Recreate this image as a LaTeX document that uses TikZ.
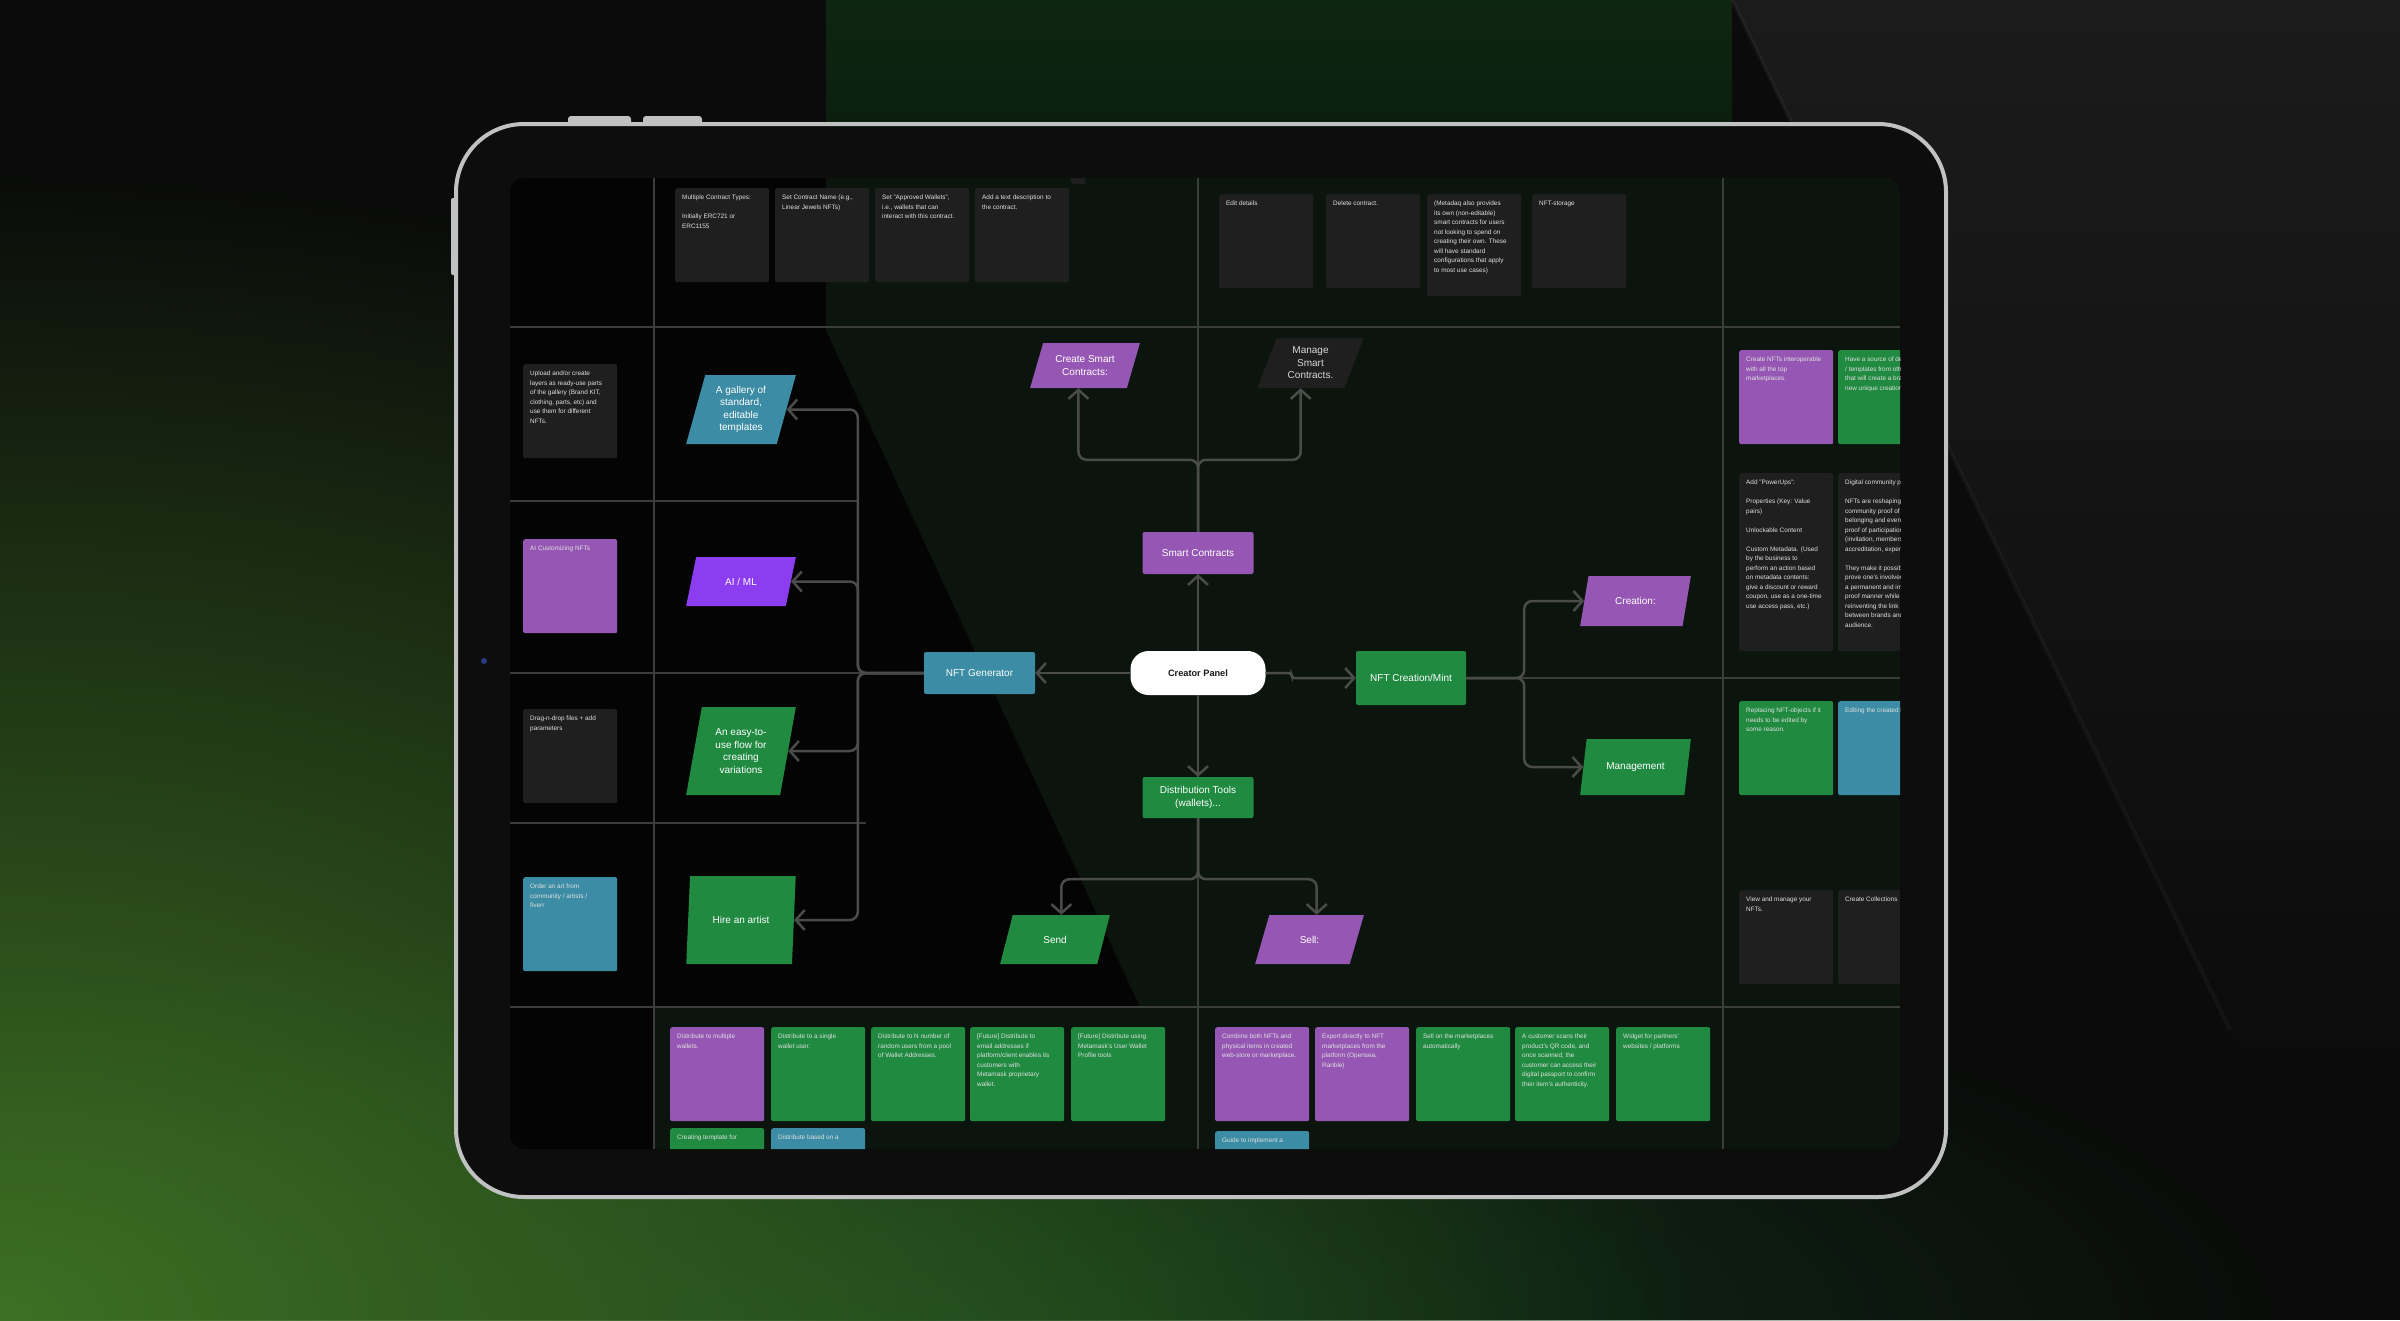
\documentclass[tikz,border=0pt]{standalone}
\usepackage{fontspec}
\setmainfont{Liberation Sans}
\usetikzlibrary{arrows.meta,shapes.geometric,fadings}
\definecolor{bgbase}{HTML}{0A0B0A}
\definecolor{bandgreen}{HTML}{0D2611}
\definecolor{bandlow}{HTML}{0B140C}
\definecolor{bggrey}{HTML}{1A1B1A}
\definecolor{glowgreen}{HTML}{3D7024}
\definecolor{deepgreen}{HTML}{12381B}
\definecolor{bezel}{HTML}{0D0D0D}
\definecolor{silver}{HTML}{BFC2C0}
\definecolor{camblue}{HTML}{2A3A80}
\definecolor{screenbg}{HTML}{040404}
\definecolor{screengreen}{HTML}{0B150E}
\definecolor{gridc}{HTML}{3B3D3B}
\definecolor{connc}{HTML}{4A4C4A}
\definecolor{purpleN}{HTML}{9657B4}
\definecolor{greenN}{HTML}{1F8A40}
\definecolor{tealN}{HTML}{3B8CA4}
\definecolor{violetN}{HTML}{8C3DF0}
\definecolor{darkN}{HTML}{1E1F1E}
\definecolor{notetext}{HTML}{E0E0E0}
\tikzfading[name=glowfade, inner color=transparent!0, outer color=transparent!100]
\newcommand{\nodefont}{\fontsize{10}{12.4}\selectfont}
\newcommand{\notefont}{\fontsize{6.4}{9.5}\selectfont}
\newcommand{\notebox}[2][80pt]{\parbox[t][#1][t]{80pt}{\raggedright #2}}
\tikzset{boxnode/.style={rectangle, rounded corners=2pt, inner sep=2pt, text=white, font=\nodefont, align=center}}
\tikzset{para/.style 2 args={trapezium, trapezium left angle=#1, trapezium right angle=#2, trapezium stretches=true, inner sep=1pt, text=white, font=\nodefont, align=center}}
\tikzset{note/.style={anchor=north west, rounded corners=2pt, inner xsep=7pt, inner ysep=7pt, font=\notefont, text=notetext}}
\tikzset{conn/.style={draw=connc, line width=2.5pt, rounded corners=8pt, -{Straight Barb[length=9pt, width=20pt]}}}
\tikzset{gridline/.style={draw=gridc, line width=2.5pt}}

\begin{document}
\begin{tikzpicture}[x=1pt, y=-1pt]
\useasboundingbox (0,0) rectangle (2400,1320);
% backdrop
\fill[bgbase] (0,0) rectangle (2400,1320);
\shade[top color=bandgreen, bottom color=bandlow] (826,0) rectangle (1732,320);
\shade[top color=bggrey, bottom color=bgbase] (1732,0) -- (2400,0) -- (2400,1080) -- (2255,1080) -- cycle;
\draw[white, opacity=0.04, line width=4pt] (1732,0) -- (2230,1030);
\fill[deepgreen, path fading=glowfade] (900,1330) ellipse (1400 and 420);
\fill[glowgreen, path fading=glowfade] (0,1320) ellipse (1700 and 1150);

% tablet
\fill[silver, rounded corners=3pt] (568,116) rectangle (631,130);
\fill[silver, rounded corners=3pt] (643,116) rectangle (702,130);
\fill[silver, rounded corners=2pt] (451,198) rectangle (462,275);
\draw[silver, fill=bezel, line width=4pt, rounded corners=68pt] (456,124) rectangle (1946,1197);
\fill[screenbg, rounded corners=14pt] (510,178) rectangle (1900,1149);
\fill[camblue] (484,661) circle (3);

\begin{scope}
\clip[rounded corners=14pt] (510,178) rectangle (1900,1149);
\fill[screengreen] (826,178) -- (1900,178) -- (1900,1149) -- (654,1149) -- (654,1007) -- (1140,1007) -- (826,330) -- cycle;

% board grid
\draw[gridline] (654,178) -- (654,1149);
\draw[gridline] (1198,178) -- (1198,1149);
\draw[gridline] (1723,178) -- (1723,1149);
\draw[gridline] (510,327) -- (1900,327);
\draw[gridline] (510,1007) -- (1900,1007);
\draw[gridline] (510,501) -- (858,501);
\draw[gridline] (510,673) -- (924,673);
\draw[gridline] (510,823) -- (866,823);
\draw[gridline] (1466,678) -- (1900,678);

% sticky notes, top row
\node[note, fill=darkN] (t0) at (1071,90) {\notebox{}};
\node[note, fill=darkN] (t1) at (675,188) {\notebox{Multiple Contract Types:\\[9.5pt]Initially ERC721 or\\ERC1155}};
\node[note, fill=darkN] (t2) at (775,188) {\notebox{Set Contract Name (e.g.,\\Linear Jewels NFTs)}};
\node[note, fill=darkN] (t3) at (875,188) {\notebox{Set "Approved Wallets",\\i.e., wallets that can\\interact with this contract.}};
\node[note, fill=darkN] (t4) at (975,188) {\notebox{Add a text description to\\the contract.}};
\node[note, fill=darkN] (t5) at (1219,194) {\notebox{Edit details}};
\node[note, fill=darkN] (t6) at (1326,194) {\notebox{Delete contract.}};
\node[note, fill=darkN] (t7) at (1427,194) {\notebox[88pt]{(Metadaq also provides\\its own (non-editable)\\smart contracts for users\\not looking to spend on\\creating their own. These\\will have standard\\configurations that apply\\to most use cases)}};
\node[note, fill=darkN] (t8) at (1532,194) {\notebox{NFT-storage}};

% sticky notes, left column
\node[note, fill=darkN] (l1a) at (423,364) {\notebox{}};
\node[note, fill=purpleN] (l2a) at (423,539) {\notebox{}};
\node[note, fill=darkN] (l3a) at (423,709) {\notebox{}};
\node[note, fill=tealN] (l4a) at (423,877) {\notebox{}};
\node[note, fill=darkN] (l1) at (523,364) {\notebox{Upload and/or create\\layers as ready-use parts\\of the gallery (Brand KIT,\\clothing, parts, etc) and\\use them for different\\NFTs.}};
\node[note, fill=purpleN] (l2) at (523,539) {\notebox{AI Customizing NFTs}};
\node[note, fill=darkN] (l3) at (523,709) {\notebox{Drag-n-drop files + add\\parameters}};
\node[note, fill=tealN] (l4) at (523,877) {\notebox{Order an art from\\community / artists /\\fiverr}};

% sticky notes, right column
\node[note, fill=purpleN] (r1) at (1739,350) {\notebox{Create NFTs interoperable\\with all the top\\marketplaces.}};
\node[note, fill=greenN] (r1b) at (1838,350) {\notebox{Have a source of designs\\/ templates from others\\that will create a brand\\new unique creation}};
\node[note, fill=darkN] (r2) at (1739,473) {\notebox[164pt]{Add "PowerUps":\\[9.5pt]Properties (Key: Value\\pairs)\\[9.5pt]Unlockable Content\\[9.5pt]Custom Metadata. (Used\\by the business to\\perform an action based\\on metadata contents:\\give a discount or reward\\coupon, use as a one-time\\use access pass, etc.)}};
\node[note, fill=darkN] (r2b) at (1838,473) {\notebox[164pt]{Digital community proof\\[9.5pt]NFTs are reshaping\\community proof of\\belonging and even\\proof of participation\\(invitation, membership,\\accreditation, experience).\\[9.5pt]They make it possible to\\prove one's involvement in\\a permanent and immutable\\proof manner while\\reinventing the link\\between brands and their\\audience.}};
\node[note, fill=greenN] (r3) at (1739,701) {\notebox{Replacing NFT-objects if it\\needs to be edited by\\some reason.}};
\node[note, fill=tealN] (r3b) at (1838,701) {\notebox{Editing the created NFTs}};
\node[note, fill=darkN] (r4) at (1739,890) {\notebox{View and manage your\\NFTs.}};
\node[note, fill=darkN] (r4b) at (1838,890) {\notebox{Create Collections}};

% sticky notes, bottom row
\node[note, fill=purpleN] (b1) at (670,1027) {\notebox{Distribute to multiple\\wallets.}};
\node[note, fill=greenN] (b2) at (771,1027) {\notebox{Distribute to a single\\wallet user.}};
\node[note, fill=greenN] (b3) at (871,1027) {\notebox{Distribute to N number of\\random users from a pool\\of Wallet Addresses.}};
\node[note, fill=greenN] (b4) at (970,1027) {\notebox{[Future] Distribute to\\email addresses if\\platform/client enables its\\customers with\\Metamask proprietary\\wallet.}};
\node[note, fill=greenN] (b5) at (1071,1027) {\notebox{[Future] Distribute using\\Metamask's User Wallet\\Profile tools}};
\node[note, fill=purpleN] (b6) at (1215,1027) {\notebox{Combine both NFTs and\\physical items in created\\web-store or marketplace.}};
\node[note, fill=purpleN] (b7) at (1315,1027) {\notebox{Export directly to NFT\\marketplaces from the\\platform (Opensea,\\Rarible)}};
\node[note, fill=greenN] (b8) at (1416,1027) {\notebox{Sell on the marketplaces\\automatically}};
\node[note, fill=greenN] (b9) at (1515,1027) {\notebox{A customer scans their\\product's QR code, and\\once scanned, the\\customer can access their\\digital passport to confirm\\their item's authenticity.}};
\node[note, fill=greenN] (b10) at (1616,1027) {\notebox{Widget for partners'\\websites / platforms}};
\node[note, fill=greenN] (b11) at (670,1128) {\notebox{Creating template for}};
\node[note, fill=tealN] (b12) at (771,1128) {\notebox{Distribute based on a}};
\node[note, fill=tealN] (b13) at (1215,1131) {\notebox{Guide to implement a}};

% mind map
\node[boxnode, fill=white, text=black!90, rounded corners=18pt, minimum width=135pt, minimum height=44pt, font=\fontsize{9.2}{11}\selectfont\bfseries] (panel) at (1198,673) {Creator Panel};
\node[boxnode, fill=tealN, minimum width=111pt, minimum height=42pt] (gen) at (979.5,673) {NFT Generator};
\node[boxnode, fill=greenN, minimum width=110pt, minimum height=54pt] (mint) at (1411,678) {NFT Creation/Mint};
\node[boxnode, fill=purpleN, minimum width=111pt, minimum height=42pt] (sc) at (1198,553) {Smart Contracts};
\node[boxnode, fill=greenN, minimum width=111pt, minimum height=41pt] (dist) at (1198,797.5) {Distribution Tools\\(wallets)...};

\node[para={66}{114}, fill=purpleN, minimum width=110pt, minimum height=45pt] (csc) at (1085,365.5) {Create Smart\\Contracts:};
\node[para={68}{112}, fill=darkN, text=white!85!black, minimum width=107pt, minimum height=50pt] (msc) at (1310.5,363) {Manage\\Smart\\Contracts.};
\node[para={74}{106}, fill=tealN, minimum width=110pt, minimum height=69pt] (gallery) at (741,409.5) {A gallery of\\standard,\\editable\\templates};
\node[para={68}{112}, fill=violetN, minimum width=110pt, minimum height=49pt] (aiml) at (741,581.5) {AI / ML};
\node[para={77}{103}, fill=greenN, minimum width=110pt, minimum height=88pt] (easy) at (741,751) {An easy-to-\\use flow for\\creating\\variations};
\node[para={77}{103}, fill=greenN, minimum width=110pt, minimum height=88pt] (hire) at (741,920) {Hire an artist};
\node[para={68}{112}, fill=greenN, minimum width=110pt, minimum height=49pt] (send) at (1055,939.5) {Send};
\node[para={68}{112}, fill=purpleN, minimum width=109pt, minimum height=49pt] (sell) at (1309.5,939.5) {Sell:};
\node[para={68}{112}, fill=purpleN, minimum width=111pt, minimum height=50pt] (creation) at (1635.5,601) {Creation:};
\node[para={70}{110}, fill=greenN, minimum width=111pt, minimum height=56pt] (mgmt) at (1635.5,767) {Management};

\begin{scope}[conn]
	\draw (panel.west) -- (gen.east);
	\draw (panel.north) -- (sc.south);
	\draw (panel.south) -- (dist.north);
	\draw[rounded corners=3pt] (panel.east) -- ++(26,0) |- (mint.west);
	\draw (sc.north) -- ++(0,-72) -| (csc.bottom side);
	\draw (sc.north) -- ++(0,-72) -| (msc.bottom side);
	\draw (gen.west) -- ++(-66,0) |- (gallery.right side);
	\draw (gen.west) -- ++(-66,0) |- (aiml.right side);
	\draw (gen.west) -- ++(-66,0) |- (easy.right side);
	\draw (gen.west) -- ++(-66,0) |- (hire.right side);
	\draw (dist.south) -- ++(0,61) -| (send.top side);
	\draw (dist.south) -- ++(0,61) -| (sell.top side);
	\draw (mint.east) -- ++(58,0) |- (creation.left side);
	\draw (mint.east) -- ++(58,0) |- (mgmt.left side);
\end{scope}
\end{scope}
\end{tikzpicture}
\end{document}
